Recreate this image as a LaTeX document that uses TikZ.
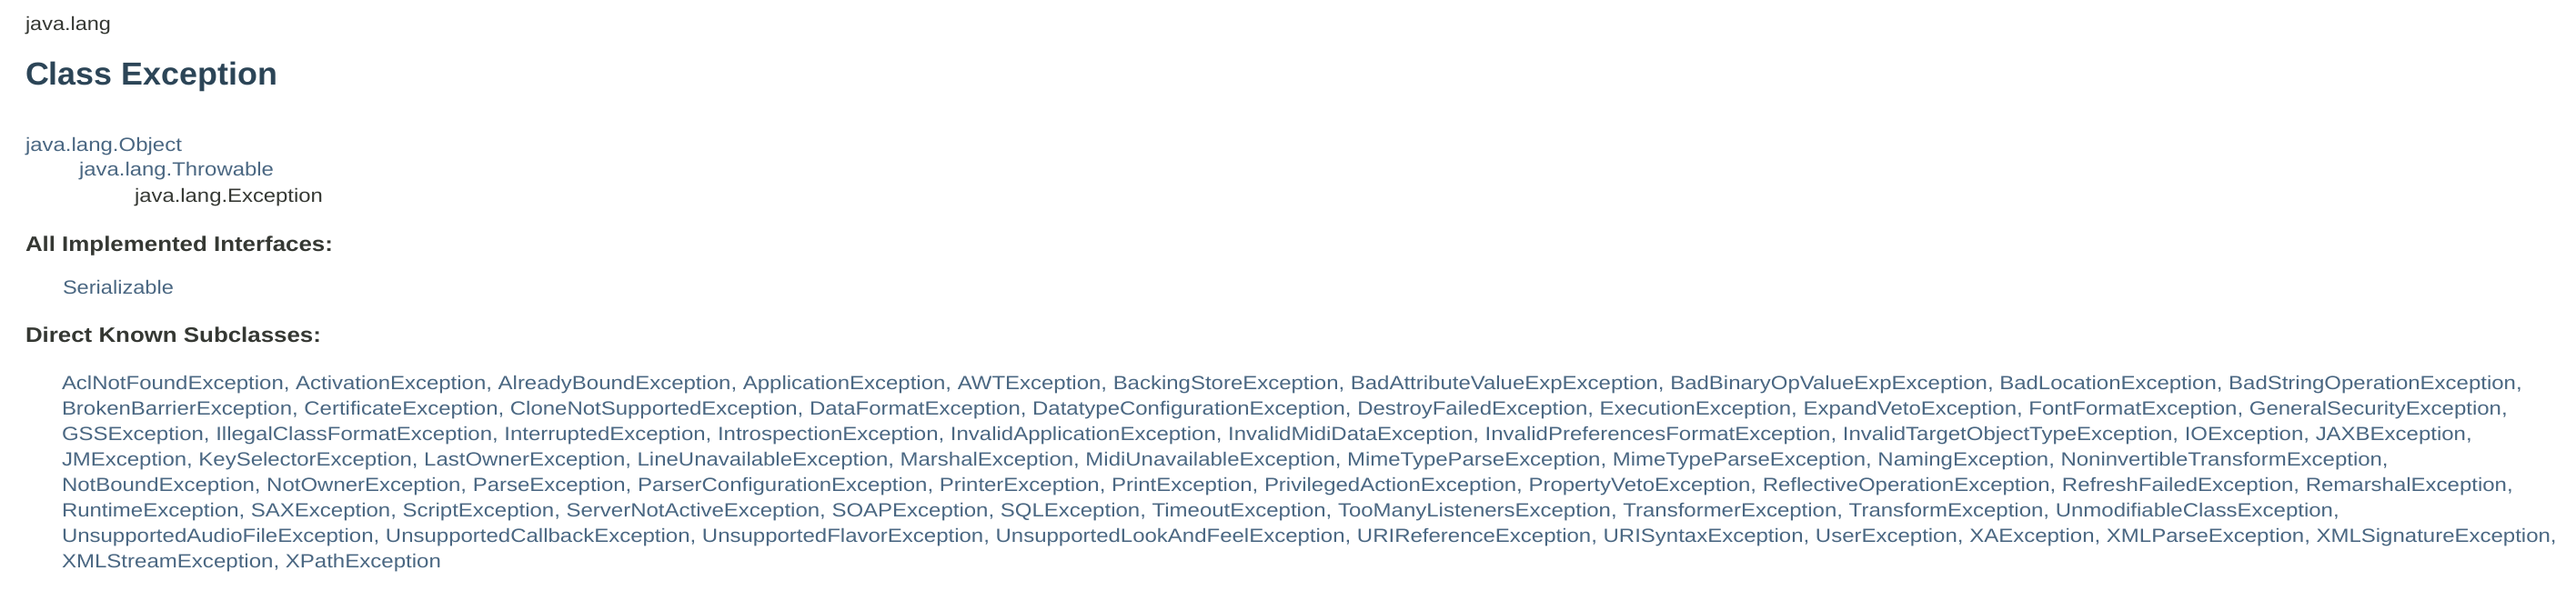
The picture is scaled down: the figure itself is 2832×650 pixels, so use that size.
\documentclass[tikz,border=0pt]{standalone}
\usepackage{fontspec}
\setmainfont{Liberation Sans}
\usepackage{graphicx}
\definecolor{lnk}{HTML}{4A6782}
\definecolor{txt}{HTML}{353833}
\definecolor{ttl}{HTML}{2C4557}
\newsavebox\fitbox
\newcommand{\fitto}[2]{\sbox\fitbox{#2}\pgfmathsetmacro\fitscale{#1/\wd\fitbox}\scalebox{\fitscale}[1]{\usebox\fitbox}}
\tikzset{t/.style={anchor=base west,inner sep=0pt,outer sep=0pt},
 norm/.style={t,font=\fontsize{21}{21}\selectfont,text=txt},
 link/.style={t,font=\fontsize{21}{21}\selectfont,text=lnk},
 head/.style={t,font=\fontsize{23}{23}\selectfont\bfseries,text=txt},
 title/.style={t,font=\fontsize{35}{35}\selectfont\bfseries,text=ttl}}
\begin{document}
\begin{tikzpicture}[x=1pt,y=1pt]
\useasboundingbox[fill=white] (0,0) rectangle (2832,-650);
\node[norm] (pkg) at (28,-34) {\fitto{94}{java.lang}};
\node[title] (cls) at (28,-94) {\fitto{277}{Class Exception}};
\node[link] (obj) at (28,-166) {\fitto{172}{java.lang.Object}};
\node[link] (thr) at (87,-193) {\fitto{214}{java.lang.Throwable}};
\node[norm] (exc) at (148,-222) {\fitto{207}{java.lang.Exception}};
\node[head] (aii) at (28,-276) {\fitto{338}{All Implemented Interfaces:}};
\node[link] (ser) at (69,-323) {\fitto{122}{Serializable}};
\node[head] (dks) at (28,-376) {\fitto{325}{Direct Known Subclasses:}};
\node[link] (r1) at (68,-428) {\fitto{2705}{AclNotFoundException, ActivationException, AlreadyBoundException, ApplicationException, AWTException, BackingStoreException, BadAttributeValueExpException, BadBinaryOpValueExpException, BadLocationException, BadStringOperationException,}};
\node[link] (r2) at (68,-456) {\fitto{2689}{BrokenBarrierException, CertificateException, CloneNotSupportedException, DataFormatException, DatatypeConfigurationException, DestroyFailedException, ExecutionException, ExpandVetoException, FontFormatException, GeneralSecurityException,}};
\node[link] (r3) at (68,-484) {\fitto{2650}{GSSException, IllegalClassFormatException, InterruptedException, IntrospectionException, InvalidApplicationException, InvalidMidiDataException, InvalidPreferencesFormatException, InvalidTargetObjectTypeException, IOException, JAXBException,}};
\node[link] (r4) at (68,-512) {\fitto{2558}{JMException, KeySelectorException, LastOwnerException, LineUnavailableException, MarshalException, MidiUnavailableException, MimeTypeParseException, MimeTypeParseException, NamingException, NoninvertibleTransformException,}};
\node[link] (r5) at (68,-540) {\fitto{2695}{NotBoundException, NotOwnerException, ParseException, ParserConfigurationException, PrinterException, PrintException, PrivilegedActionException, PropertyVetoException, ReflectiveOperationException, RefreshFailedException, RemarshalException,}};
\node[link] (r6) at (68,-568) {\fitto{2504}{RuntimeException, SAXException, ScriptException, ServerNotActiveException, SOAPException, SQLException, TimeoutException, TooManyListenersException, TransformerException, TransformException, UnmodifiableClassException,}};
\node[link] (r7) at (68,-596) {\fitto{2743}{UnsupportedAudioFileException, UnsupportedCallbackException, UnsupportedFlavorException, UnsupportedLookAndFeelException, URIReferenceException, URISyntaxException, UserException, XAException, XMLParseException, XMLSignatureException,}};
\node[link] (r8) at (68,-624) {\fitto{417}{XMLStreamException, XPathException}};
\end{tikzpicture}
\end{document}
